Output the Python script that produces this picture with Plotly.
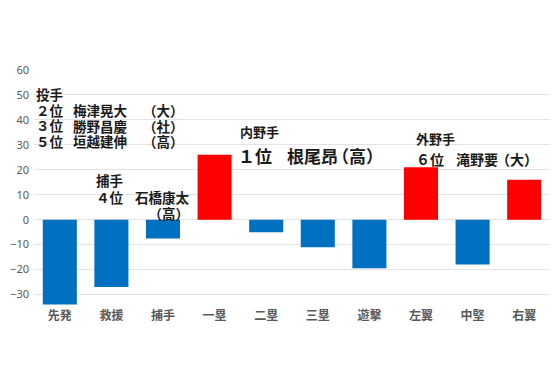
import plotly.graph_objects as go

categories = ["先発", "救援", "捕手", "一塁", "二塁", "三塁", "遊撃", "左翼", "中堅", "右翼"]
values = [-34, -27, -7.5, 26, -5, -11, -19.5, 21, -18, 16]
bar_colors = ["#0070C0" if v < 0 else "#FF0000" for v in values]
y_ticks = [-30, -20, -10, 0, 10, 20, 30, 40, 50, 60]

# page has an 8px body margin; figure is sized to fit inside the 560x373 window
OFF = 8
W, H = 560 - OFF, 373 - OFF
# plot area in page pixels
PL, PR, PT, PB = 34, 550, 70, 307
ML, MR, MT, MB = PL - OFF, W - (PR - OFF), PT - OFF, H - (PB - OFF)
y_min, y_max = -35, 60

# text blocks: lines, x page-px, y page-px (block centre), glyph size, line pitch, anchor
blocks = [
    (["投手", "２位", "３位", "５位"], 35, 117.5, 13.5, 15.67, "left"),
    (["梅津晃大", "勝野昌慶", "垣越建伸"], 100.5, 125.5, 13.5, 15.5, "center"),
    (["（大）", "（社）", "（高）"], 163.5, 125.5, 13.5, 15.5, "center"),
    (["捕手", "４位"], 110, 188.5, 13.5, 17, "center"),
    (["石橋康太", "（高）"], 191, 205, 13.5, 16, "right"),
    (["内野手"], 259, 131, 13, 13, "center"),
    (["１位"], 255, 155, 17, 17, "center"),
    (["根尾昂"], 312.5, 155, 17, 17, "center"),
    (["（高）"], 357.5, 155, 17, 17, "center"),
    (["外野手"], 435.5, 138.5, 13, 13, "center"),
    (["６位"], 430, 158.5, 14, 14, "center"),
    (["滝野要"], 477, 158.5, 14, 14, "center"),
    (["（大）"], 516.5, 158.5, 14, 14, "center"),
]

pw = PR - PL
ph = PB - PT

fig = go.Figure()
fig.add_trace(go.Bar(
    x=categories, y=values, marker=dict(color=bar_colors, line=dict(width=0)),
    width=0.66,
))

annotations = []
for lines, px, py, size, pitch, anchor in blocks:
    base = pitch / 1.3 if len(lines) > 1 else size
    text = "<br>".join(f"<span style='font-size:{size}px'>{t}</span>" for t in lines)
    annotations.append(dict(
        text=f"<b>{text}</b>", x=(px - PL) / pw, y=(PB - py) / ph,
        xref="paper", yref="paper", xanchor=anchor, yanchor="middle", align=anchor,
        showarrow=False, borderpad=0,
        font=dict(family="Noto Sans CJK JP", size=base, color="#1a1a1a"),
    ))

fig.update_layout(
    width=W, height=H,
    margin=dict(l=ML, r=MR, t=MT, b=MB, pad=0, autoexpand=False),
    paper_bgcolor="white", plot_bgcolor="white",
    showlegend=False,
    font=dict(family="Noto Sans CJK JP", color="#595959", size=12),
    xaxis=dict(showgrid=False, showline=False, ticks="", zeroline=False,
               automargin=False,
               tickfont=dict(family="Noto Sans CJK JP", size=12, color="#595959", weight="bold")),
    yaxis=dict(range=[y_min, y_max], tickvals=y_ticks, showgrid=True,
               gridcolor="#e3e3e3", gridwidth=1, zeroline=False, showline=False,
               ticks="", ticklabelstandoff=4, automargin=False,
               tickfont=dict(family="Noto Sans", size=11, color="#595959")),
    annotations=annotations,
)

fig.write_html("out.html")
